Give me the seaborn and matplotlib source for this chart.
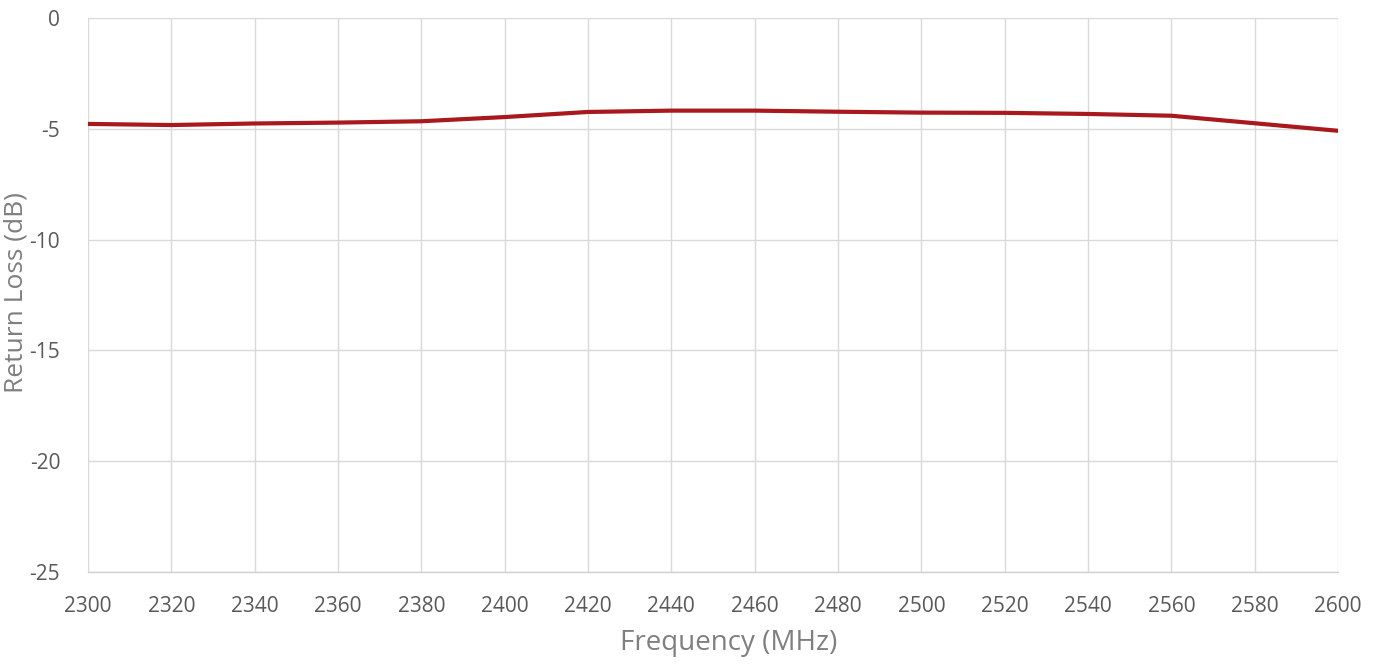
import matplotlib
matplotlib.use("Agg")
import matplotlib.pyplot as plt
import seaborn as sns
import pandas as pd

freq_mhz = [2300, 2320, 2340, 2360, 2380, 2400, 2420, 2440, 2460, 2480, 2500, 2520, 2540, 2560, 2580, 2600]
return_loss_db = [-4.78, -4.83, -4.76, -4.72, -4.66, -4.47, -4.24, -4.18, -4.18, -4.23, -4.27, -4.28, -4.33, -4.41, -4.75, -5.09]
x_ticks = list(range(2300, 2601, 20))
y_ticks = [0, -5, -10, -15, -20, -25]

sns.set_theme(style="white")
plt.rcParams['font.family'] = ['Open Sans', 'DejaVu Sans']
plt.rcParams['axes.unicode_minus'] = False

df = pd.DataFrame({"freq": freq_mhz, "rl": return_loss_db})

fig = plt.figure(figsize=(13.81, 6.64), dpi=100)
ax = fig.add_axes([88/1381, 1 - 572/664, (1338-88)/1381, (572-18)/664])

sns.lineplot(data=df, x="freq", y="rl", ax=ax, color="#A8181C", linewidth=3.0)

ax.set_xlim(2300, 2600)
ax.set_ylim(-25, 0)
ax.set_xticks(x_ticks)
ax.set_yticks(y_ticks)
ax.grid(True, color="#d9d9d9", linewidth=1.0)
for s in ["top", "right", "left"]:
    ax.spines[s].set_visible(False)
ax.spines["bottom"].set_color("#d0d0d0")
ax.spines["bottom"].set_linewidth(1.0)
ax.tick_params(axis="both", length=0, labelsize=15, colors="#595959")
ax.tick_params(axis="x", pad=17)
ax.tick_params(axis="y", pad=20)

ax.set_xlabel("")
ax.set_ylabel("")
fig.text(729/1381, 1 - 643/664, "Frequency (MHz)", fontsize=20,
         color="#7f7f7f", ha="center", va="center")
fig.text(16/1381, 1 - 293/664, "Return Loss (dB)", rotation=90, fontsize=19,
         color="#7f7f7f", ha="center", va="center")

fig.savefig("out.png", dpi=100, facecolor="white")
